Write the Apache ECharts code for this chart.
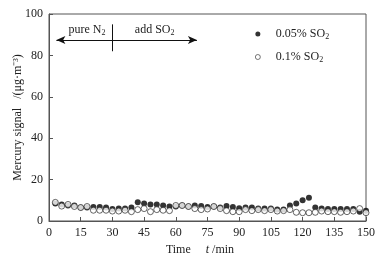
<!DOCTYPE html>
<html lang="en">
<head>
    <meta charset="UTF-8">
    <title>mercury_signal</title>
    <script src="https://cdn.jsdelivr.net/npm/echarts@6/dist/echarts.min.js"></script>
</head>

<body style="margin:0">
    <div id="mainChart" style="width: 390px; height: 263px;"></div>
    <script>
        // time points (min)
        let times = [3, 6, 9, 12, 15, 18, 21, 24, 27, 30, 33, 36, 39, 42, 45, 48, 51, 54, 57, 60,
            63, 66, 69, 72, 75, 78, 81, 84, 87, 90, 93, 96, 99, 102, 105, 108, 111, 114, 117, 120,
            123, 126, 129, 132, 135, 138, 141, 144, 147, 150]

        let so2Low = [8.5, 8, 7.5, 7.5, 6.5, 6.5, 6.8, 6.8, 6.5, 5.8, 6, 6, 6.5, 9, 8.5, 8, 8, 7.5, 7, 7,
            7.5, 7, 7.5, 7.2, 6.8, 7, 6.5, 7.2, 6.8, 6.2, 6.5, 6.5, 6, 6, 6, 5.5, 5.5, 7.5, 8.5, 10,
            11.2, 6.5, 6, 5.8, 5.8, 5.8, 5.8, 5.8, 4.5, 5]

        let so2High = [9, 7.2, 8, 7, 6.5, 7, 5.2, 5.2, 5.2, 4.8, 4.8, 5.2, 4.5, 5.5, 6, 4.5, 5.5, 5.2, 5, 7.5,
            7.5, 7, 6, 5.5, 5.8, 7, 6, 5, 4.5, 4.5, 5.5, 5, 5.5, 5, 5.5, 4.8, 5, 5.5, 4.2, 4,
            4, 4.2, 4.8, 4.5, 4.5, 4.2, 4.5, 4.8, 6, 4]

        let seriesNames = ['0.05% SO2', '0.1% SO2']

        const font = 'Liberation Serif'
        const axisColor = '#555'
        const subRich = {
            n: { fontFamily: font, fontSize: 12, color: '#222' },
            s: { fontFamily: font, fontSize: 8, color: '#222', verticalAlign: 'bottom', padding: [6, 0, 0, 0] }
        }

        function pairs(vals) {
            let out = []
            for (let i = 0; i < times.length; i++) {
                out.push([times[i], vals[i]])
            }
            return out
        }

        let chartsData = {
            animation: false,
            grid: {
                left: 49, right: 24, top: 14, bottom: 42,
                outerBoundsMode: 'none',
                containLabel: false,
                show: true, borderColor: axisColor, borderWidth: 1
            },
            legend: {
                orient: 'vertical',
                left: 250, top: 23,
                itemWidth: 26, itemHeight: 5, itemGap: 10,
                data: [
                    { name: seriesNames[0], icon: 'circle' },
                    { name: seriesNames[1], icon: 'circle', itemStyle: { borderWidth: 0.7 } }
                ],
                formatter: function (name) {
                    return '{n|' + name.replace('SO2', 'SO') + '}{s|2}'
                },
                textStyle: { rich: subRich }
            },
            xAxis: {
                type: 'value',
                min: 0, max: 150, interval: 15,
                name: '{n|Time     }{i|t}{n| /min}',
                nameLocation: 'middle',
                nameGap: 23,
                nameMoveOverlap: false,
                nameTextStyle: {
                    padding: [0, 15, 0, 0],
                    rich: {
                        n: { fontFamily: font, fontSize: 12, color: '#222' },
                        i: { fontFamily: font, fontSize: 12, color: '#222', fontStyle: 'italic' }
                    }
                },
                splitLine: { show: false },
                axisLine: { lineStyle: { color: axisColor } },
                axisTick: { inside: true, length: 4, lineStyle: { color: axisColor } },
                axisLabel: { fontFamily: font, fontSize: 12, color: '#222', margin: 6 }
            },
            yAxis: {
                type: 'value',
                min: 0, max: 100, interval: 20,
                name: 'Mercury signal   /(μg·m⁻³)',
                nameLocation: 'middle',
                nameGap: 25,
                nameMoveOverlap: false,
                nameTextStyle: { fontFamily: font, fontSize: 12, color: '#222' },
                splitLine: { show: false },
                axisLine: { show: true, lineStyle: { color: axisColor } },
                axisTick: { show: true, inside: true, length: 4, lineStyle: { color: axisColor } },
                axisLabel: { fontFamily: font, fontSize: 12, color: '#222', margin: 6 }
            },
            series: [
                {
                    type: 'scatter',
                    name: seriesNames[0],
                    data: pairs(so2Low),
                    symbol: 'circle',
                    symbolSize: 6,
                    itemStyle: { color: '#000' },
                    z: 2,
                    markLine: {
                        silent: true,
                        symbol: ['arrow', 'arrow'],
                        symbolSize: [6, 9],
                        label: { show: false },
                        lineStyle: { color: '#111', type: 'solid', width: 1 },
                        data: [
                            [{ coord: [3.5, 87.5] }, { coord: [70, 87.5] }],
                            [{ coord: [30, 82], symbol: 'none' }, { coord: [30, 95], symbol: 'none' }]
                        ]
                    },
                    markPoint: {
                        silent: true,
                        symbol: 'circle',
                        symbolSize: 0,
                        label: {
                            show: true,
                            rich: subRich
                        },
                        data: [
                            { coord: [18, 92.5], label: { formatter: '{n|pure N}{s|2}' } },
                            { coord: [50, 92.5], label: { formatter: '{n|add SO}{s|2}' } }
                        ]
                    }
                },
                {
                    type: 'scatter',
                    name: seriesNames[1],
                    data: pairs(so2High),
                    symbol: 'circle',
                    symbolSize: 6,
                    itemStyle: { color: '#fff', borderColor: '#111', borderWidth: 0.8 },
                    z: 3
                }
            ]
        }

        let charts = echarts.init(document.querySelector('#mainChart'))
        charts.setOption(chartsData, true)
    </script>
</body>

</html>
